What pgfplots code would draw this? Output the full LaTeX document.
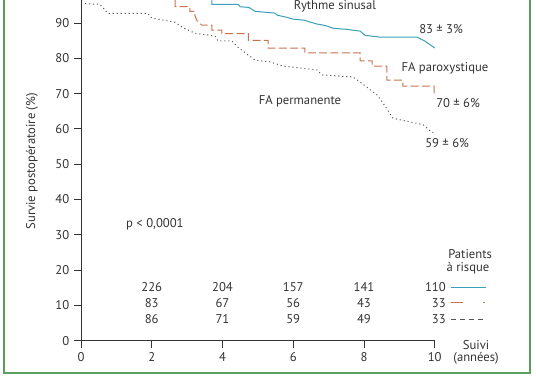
\documentclass[border=0pt]{standalone}
\usepackage{fontspec}
\setmainfont{PT Sans}
\usepackage{pgfplots}
\pgfplotsset{compat=1.18}
\definecolor{teal1}{HTML}{3AA0BA}
\definecolor{orng}{HTML}{C8734E}
\definecolor{dgray}{HTML}{555555}
\definecolor{txt}{HTML}{333333}
\definecolor{framegreen}{HTML}{5A9E5E}

\begin{document}
\fontsize{9.5}{11}\selectfont
\begin{tikzpicture}
\useasboundingbox (-60.75pt,-33.98pt) rectangle (341.25pt,255.53pt);
\begin{axis}[
  at={(0,0)}, anchor=south west, scale only axis,
  width=265.3pt, height=255.5pt,
  xmin=0, xmax=10, ymin=0, ymax=96.5,
  axis lines=left, axis line style={txt, line width=0.7pt, -},
  xtick={0,2,...,10}, ytick={0,10,...,90},
  tick align=outside, major tick length=5.5pt,
  tick style={txt, line width=0.7pt},
  ticklabel style={txt, font=\fontsize{9.5}{11}\selectfont},
  /pgf/number format/assume math mode=true,
  clip=false,
]
% Rythme sinusal
\addplot[teal1, line width=0.75pt] coordinates {
(3.70,96.5)(3.70,95.3)(4.44,95.3)(4.5,94.6)(4.75,94.4)(4.92,93.3)(5.48,92.8)(5.55,92.2)(5.82,91.6)(5.99,91.1)(6.3,90.8)(6.67,89.7)(6.9,89.3)(7.13,88.5)(7.5,88.2)(7.89,87.7)(8.03,86.5)(8.45,86.0)(9.50,86.0)(9.7,85.0)(9.92,83.5)(10.0,82.9)
};
% FA paroxystique
\addplot[orng, line width=0.75pt, dash pattern=on 6pt off 2.5pt] coordinates {
(2.66,96.5)(2.66,94.6)(3.08,94.6)(3.08,93.3)(3.22,93.3)(3.22,92.2)(3.27,90.8)(3.41,89.4)(3.70,89.4)(3.70,88.0)(3.98,88.0)(3.98,87.0)(4.73,87.0)(4.73,85.1)(5.29,85.1)(5.29,82.9)(6.33,82.9)(6.33,81.5)(7.89,81.5)(7.89,79.3)(8.23,79.3)(8.23,77.8)(8.65,77.8)(8.65,73.8)(9.10,73.8)(9.10,72.1)(9.98,72.1)(9.98,70.0)
};
% FA permanente
\addplot[dgray, line width=0.75pt, dash pattern=on 0.8pt off 2.2pt] coordinates {
(0,95.5)(0.54,95.3)(0.76,92.7)(1.89,92.7)(2.0,91.4)(2.66,90.2)(2.86,88.8)(3.22,87.1)(3.79,86.3)(3.87,84.9)(4.27,84.9)(4.44,83.1)(4.92,79.5)(5.34,79.0)(5.71,77.8)(6.67,76.7)(6.81,75.3)(7.69,74.7)(7.89,73.3)(8.37,69.6)(8.54,67.3)(8.74,64.2)(8.82,63.0)(9.67,61.2)(9.92,59.0)(10.0,59.0)
};
\begin{scope}[every node/.style={text=txt, inner sep=0pt}]
\node at (axis cs:7.18,94.6) {Rythme sinusal};
\node at (axis cs:10.18,88.2) {83 ± 3\%};
\node at (axis cs:10.29,77.1) {FA paroxystique};
\node at (axis cs:10.66,67.3) {70 ± 6\%};
\node at (axis cs:6.19,67.9) {FA permanente};
\node at (axis cs:10.35,56.1) {59 ± 6\%};
\node at (axis cs:2.09,33.0) {p < 0,0001};
\node at (axis cs:11.0,24.5) {Patients};
\node at (axis cs:10.94,20.4) {à risque};
\node at (axis cs:11.17,-1.3) {Suivi};
\node at (axis cs:11.17,-5.0) {(années)};
\node[rotate=90] at (axis cs:-1.385,50.8) {Survie postopératoire (\%)};
\node at (axis cs:2,15.2) {226};
\node at (axis cs:2,10.7) {83};
\node at (axis cs:2,6.1) {86};
\node at (axis cs:4,15.2) {204};
\node at (axis cs:4,10.7) {67};
\node at (axis cs:4,6.1) {71};
\node at (axis cs:6,15.2) {157};
\node at (axis cs:6,10.7) {56};
\node at (axis cs:6,6.1) {59};
\node at (axis cs:8,15.2) {141};
\node at (axis cs:8,10.7) {43};
\node at (axis cs:8,6.1) {49};
\node[anchor=east] at (axis cs:10.32,15.2) {110};
\node[anchor=east] at (axis cs:10.32,10.7) {33};
\node[anchor=east] at (axis cs:10.32,6.1) {33};
\end{scope}
\draw[teal1, line width=0.75pt] (axis cs:10.45,15.2) -- (axis cs:11.45,15.2);
\draw[orng, line width=0.75pt, dash pattern=on 9pt off 15.5pt on 1.5pt off 5pt] (axis cs:10.45,10.7) -- (axis cs:11.45,10.7);
\draw[dgray, line width=0.75pt, dash pattern=on 3.75pt off 3pt] (axis cs:10.45,6.1) -- (axis cs:11.45,6.1);
\end{axis}
\draw[framegreen, line width=1.5pt] (-57.5pt,270pt) -- (-57.5pt,-24pt) -- (336.5pt,-24pt) -- (336.5pt,270pt);
\end{tikzpicture}
\end{document}
